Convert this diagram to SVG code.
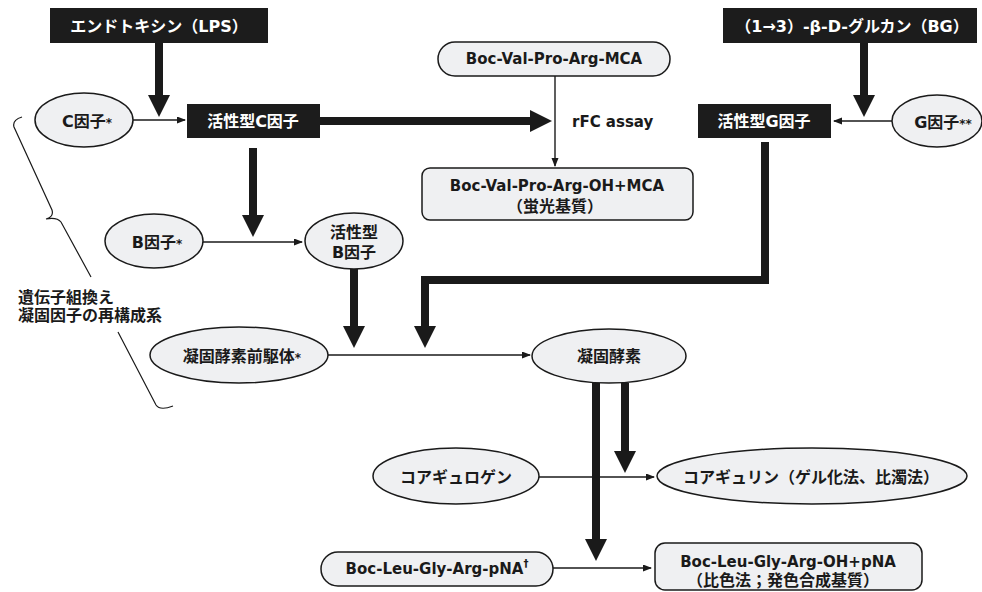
<svg xmlns="http://www.w3.org/2000/svg" width="982" height="592" viewBox="0 0 982 592">
<defs>
<style>
text{font-family:"DejaVu Sans","Noto Sans CJK JP",sans-serif;font-weight:bold;fill:#1a1a1a;text-anchor:middle;dominant-baseline:central}
.jp{font-size:16px}
.lat{font-size:15px}
.wt{fill:#ffffff}
.blk{fill:#1c1c1c}
.nd{fill:#eff0f2;stroke:#1a1a1a;stroke-width:1.5}
.thin{fill:none;stroke:#1a1a1a;stroke-width:1.4}
.thick{fill:none;stroke:#1a1a1a;stroke-width:8;stroke-linejoin:miter}
.brace{fill:none;stroke:#1a1a1a;stroke-width:1.2}
</style>
<marker id="ah" markerUnits="userSpaceOnUse" markerWidth="23" markerHeight="23" refX="2" refY="11" orient="auto">
<path d="M0,0 L22,11 L0,22 z" fill="#1a1a1a"/>
</marker>
<marker id="as" markerUnits="userSpaceOnUse" markerWidth="10" markerHeight="8" refX="8" refY="3.5" orient="auto">
<path d="M0,0 L9,3.5 L0,7 z" fill="#1a1a1a"/>
</marker>
</defs>

<g id="connectors">
<line class="thick" x1="159" y1="43" x2="159" y2="97" marker-end="url(#ah)"/>
<line class="thin" x1="133" y1="120" x2="185" y2="120" marker-end="url(#as)"/>
<line class="thick" x1="320" y1="121" x2="532" y2="121" marker-end="url(#ah)"/>
<line class="thick" x1="253" y1="148" x2="253" y2="217" marker-end="url(#ah)"/>
<line class="thin" x1="203" y1="242" x2="302" y2="242" marker-end="url(#as)"/>
<line class="thin" x1="555" y1="76" x2="555" y2="166" marker-end="url(#as)"/>
<line class="thick" x1="864" y1="43" x2="864" y2="97" marker-end="url(#ah)"/>
<line class="thin" x1="892" y1="121" x2="834" y2="121" marker-end="url(#as)"/>
<polyline class="thick" points="765,142 765,280 425,280 425,328" marker-end="url(#ah)"/>
<line class="thick" x1="354" y1="269" x2="354" y2="328" marker-end="url(#ah)"/>
<line class="thin" x1="328" y1="355" x2="530" y2="355" marker-end="url(#as)"/>
<line class="thick" x1="596" y1="383" x2="596" y2="541" marker-end="url(#ah)"/>
<line class="thick" x1="625" y1="383" x2="625" y2="453" marker-end="url(#ah)"/>
<line class="thin" x1="539" y1="477" x2="654" y2="477" marker-end="url(#as)"/>
<line class="thin" x1="553" y1="568" x2="651" y2="568" marker-end="url(#as)"/>
</g>

<g id="lps">
<rect class="blk" x="50" y="8" width="218" height="35"/>
<text class="jp wt" x="159" y="26">エンドトキシン（LPS）</text>
</g>

<g id="bg">
<rect class="blk" x="723" y="8" width="254" height="35"/>
<text class="jp wt" x="852" y="26">（1→3）-β-D-グルカン（BG）</text>
</g>

<g id="factorC">
<ellipse class="nd" cx="84" cy="120" rx="49" ry="27"/>
<text class="jp" x="87" y="121">C因子<tspan font-size="12" dy="2">*</tspan></text>
</g>

<g id="activeC">
<rect class="blk" x="187" y="104" width="133" height="34"/>
<text class="jp wt" x="253" y="121">活性型C因子</text>
</g>

<g id="mcaSubstrate">
<rect class="nd" x="438" y="42" width="232" height="34" rx="17"/>
<text class="lat" x="554" y="59">Boc-Val-Pro-Arg-MCA</text>
</g>

<g id="rfc">
<text class="lat" x="572" y="122" style="text-anchor:start">rFC assay</text>
</g>

<g id="mcaProduct">
<rect class="nd" x="422" y="168" width="271" height="52" rx="8"/>
<text class="lat" x="557" y="186">Boc-Val-Pro-Arg-OH+MCA</text>
<text class="jp" x="555" y="206">（蛍光基質）</text>
</g>

<g id="activeG">
<rect class="blk" x="698" y="104" width="133" height="34"/>
<text class="jp wt" x="764" y="121">活性型G因子</text>
</g>

<g id="factorG">
<ellipse class="nd" cx="937" cy="121" rx="45" ry="26"/>
<text class="jp" x="943" y="122">G因子<tspan font-size="12" dy="2">**</tspan></text>
</g>

<g id="factorB">
<ellipse class="nd" cx="154" cy="241" rx="49" ry="27"/>
<text class="jp" x="157" y="242">B因子<tspan font-size="12" dy="2">*</tspan></text>
</g>

<g id="activeB">
<ellipse class="nd" cx="354" cy="241" rx="49" ry="28"/>
<text class="jp" x="354" y="232">活性型</text>
<text class="jp" x="354" y="252">B因子</text>
</g>

<g id="proclotting">
<ellipse class="nd" cx="239" cy="355" rx="89" ry="28"/>
<text class="jp" x="242" y="356">凝固酵素前駆体<tspan font-size="12" dy="2">*</tspan></text>
</g>

<g id="clotting">
<ellipse class="nd" cx="609" cy="356" rx="77" ry="27"/>
<text class="jp" x="609" y="356">凝固酵素</text>
</g>

<g id="coagulogen">
<ellipse class="nd" cx="456" cy="476" rx="83" ry="28"/>
<text class="jp" x="456" y="477">コアギュロゲン</text>
</g>

<g id="coagulin">
<ellipse class="nd" cx="812" cy="476" rx="155" ry="28"/>
<text class="jp" x="811" y="477">コアギュリン（ゲル化法、比濁法）</text>
</g>

<g id="pnaSubstrate">
<rect class="nd" x="321" y="552" width="232" height="34" rx="17"/>
<text class="lat" x="437" y="569">Boc-Leu-Gly-Arg-pNA<tspan font-size="10" dy="-6">†</tspan></text>
</g>

<g id="pnaProduct">
<rect class="nd" x="655" y="543" width="267" height="47" rx="10"/>
<text class="lat" x="788" y="562">Boc-Leu-Gly-Arg-OH+pNA</text>
<text class="jp" x="783" y="580">（比色法；発色合成基質）</text>
</g>

<g id="recombinant">
<path class="brace" d="M22,117 Q12,120 14,127 L52,210 Q54,217 46,219 Q57,217 61,222 L91,277 M118,332 L156,405 Q160,411 173,406"/>
<text class="jp" x="18" y="297" style="text-anchor:start">遺伝子組換え</text>
<text class="jp" x="18" y="315" style="text-anchor:start">凝固因子の再構成系</text>
</g>
</svg>
